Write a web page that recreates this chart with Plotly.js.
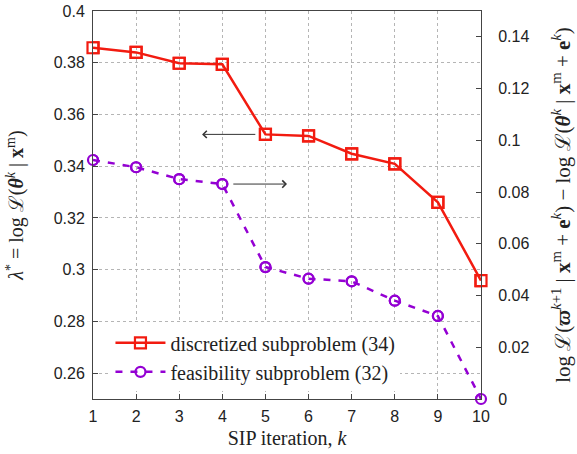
<!DOCTYPE html>
<html><head><meta charset="utf-8">
<script src="https://cdn.plot.ly/plotly-3.0.1.min.js"></script>
<style>body{margin:0;padding:0;background:#fff}#chart{width:577px;height:454px}</style>
</head><body><div id="chart"></div>
<script>
const iterations = [1,2,3,4,5,6,7,8,9,10];
const discretized = [0.3858,0.3840,0.3798,0.3794,0.3523,0.3517,0.3448,0.3409,0.3260,0.2958];
const feasibility = [0.0924,0.0896,0.0850,0.0831,0.0510,0.0465,0.0455,0.0380,0.0321,0.0000];
const xTicks = [1,2,3,4,5,6,7,8,9,10];
const seriesNames = ['discretized subproblem (34)','feasibility subproblem (32)'];

const serif = 'Liberation Serif';
const sans = 'Liberation Sans';
const red = '#f21b10', purple = '#9400d3';
const redMarker = {symbol: 'square-open', size: 11, color: red, line: {width: 2.2, color: red}};
const purpleMarker = {symbol: 'circle-open', size: 10, color: purple, line: {width: 2.2, color: purple}};

const traces = [
  {x: iterations, y: discretized, name: seriesNames[0], yaxis: 'y', mode: 'lines+markers',
   line: {color: red, width: 2.5}, marker: redMarker},
  {x: iterations, y: feasibility, name: seriesNames[1], yaxis: 'y2', mode: 'lines+markers',
   line: {color: purple, width: 2.5, dash: '7px,8px'}, marker: purpleMarker},
  {x: iterations, y: discretized, name: seriesNames[0], yaxis: 'y', mode: 'markers', cliponaxis: false,
   showlegend: false, marker: redMarker},
  {x: iterations, y: feasibility, name: seriesNames[1], yaxis: 'y2', mode: 'markers', cliponaxis: false,
   showlegend: false, marker: purpleMarker}
];

const layout = {
  width: 577, height: 454,
  font: {family: serif},
  margin: {l: 93, r: 96, t: 11, b: 55},
  paper_bgcolor: '#fff', plot_bgcolor: '#fff',
  showlegend: true,
  legend: {x: 0.045, y: 0.195, xanchor: 'left', yanchor: 'top', bgcolor: '#fff', itemwidth: 50,
           font: {family: serif, size: 20, color: '#222'}, tracegroupgap: 0},
  xaxis: {range: [1,10], tickvals: xTicks, ticks: 'inside', ticklen: 5, tickcolor: '#444',
          showline: true, linecolor: '#444', linewidth: 1, mirror: true,
          showgrid: true, gridcolor: '#b5b5b5', griddash: 'dot', gridwidth: 1, zeroline: false,
          tickfont: {family: sans, size: 16, color: '#222'}, ticklabelstandoff: 3,
          title: {text: 'SIP iteration, <i>k</i>', font: {family: serif, size: 20, color: '#222'}, standoff: 6}},
  yaxis: {range: [0.25,0.4], tick0: 0.26, dtick: 0.02, ticks: 'inside', ticklen: 5, tickcolor: '#444',
          showline: true, linecolor: '#444', linewidth: 1,
          showgrid: true, gridcolor: '#b5b5b5', griddash: 'dot', gridwidth: 1, zeroline: false,
          tickfont: {family: sans, size: 16, color: '#222'}, ticklabelstandoff: 4,
          title: {text: '<i>λ</i><sup>*</sup> = log ℒ(<b><i>θ</i></b><sup><i>k</i></sup> | <b>x</b><sup>m</sup>)',
                  font: {family: serif, size: 20, color: '#222'}, standoff: 24}},
  yaxis2: {range: [0,0.15], dtick: 0.02, tick0: 0, overlaying: 'y', side: 'right',
           ticks: 'inside', ticklen: 5, tickcolor: '#444',
           showline: true, linecolor: '#444', linewidth: 1, showgrid: false, zeroline: false,
           tickfont: {family: sans, size: 16, color: '#222'}, ticklabelstandoff: 13,
           title: {text: 'log ℒ(<b><i>ϖ</i></b><sup><i>k</i>+1</sup> | <b>x</b><sup>m</sup> + <b>e</b><sup><i>k</i></sup>) − log ℒ(<b><i>θ</i></b><sup><i>k</i></sup> | <b>x</b><sup>m</sup> + <b>e</b><sup><i>k</i></sup>)',
                   font: {family: serif, size: 21, color: '#222'}, standoff: 26}},
  annotations: [
    {xref: 'x', yref: 'y', axref: 'x', ayref: 'y', x: 3.53, y: 0.3523, ax: 4.8, ay: 0.3523,
     text: '', showarrow: true, arrowhead: 4, arrowsize: 1.4, arrowwidth: 1, arrowcolor: '#333'},
    {xref: 'x', yref: 'y2', axref: 'x', ayref: 'y2', x: 5.5, y: 0.0831, ax: 4.22, ay: 0.0831,
     text: '', showarrow: true, arrowhead: 4, arrowsize: 1.4, arrowwidth: 1, arrowcolor: '#333'}
  ]
};

Plotly.newPlot('chart', traces, layout, {displayModeBar: false, staticPlot: true});
</script></body></html>
